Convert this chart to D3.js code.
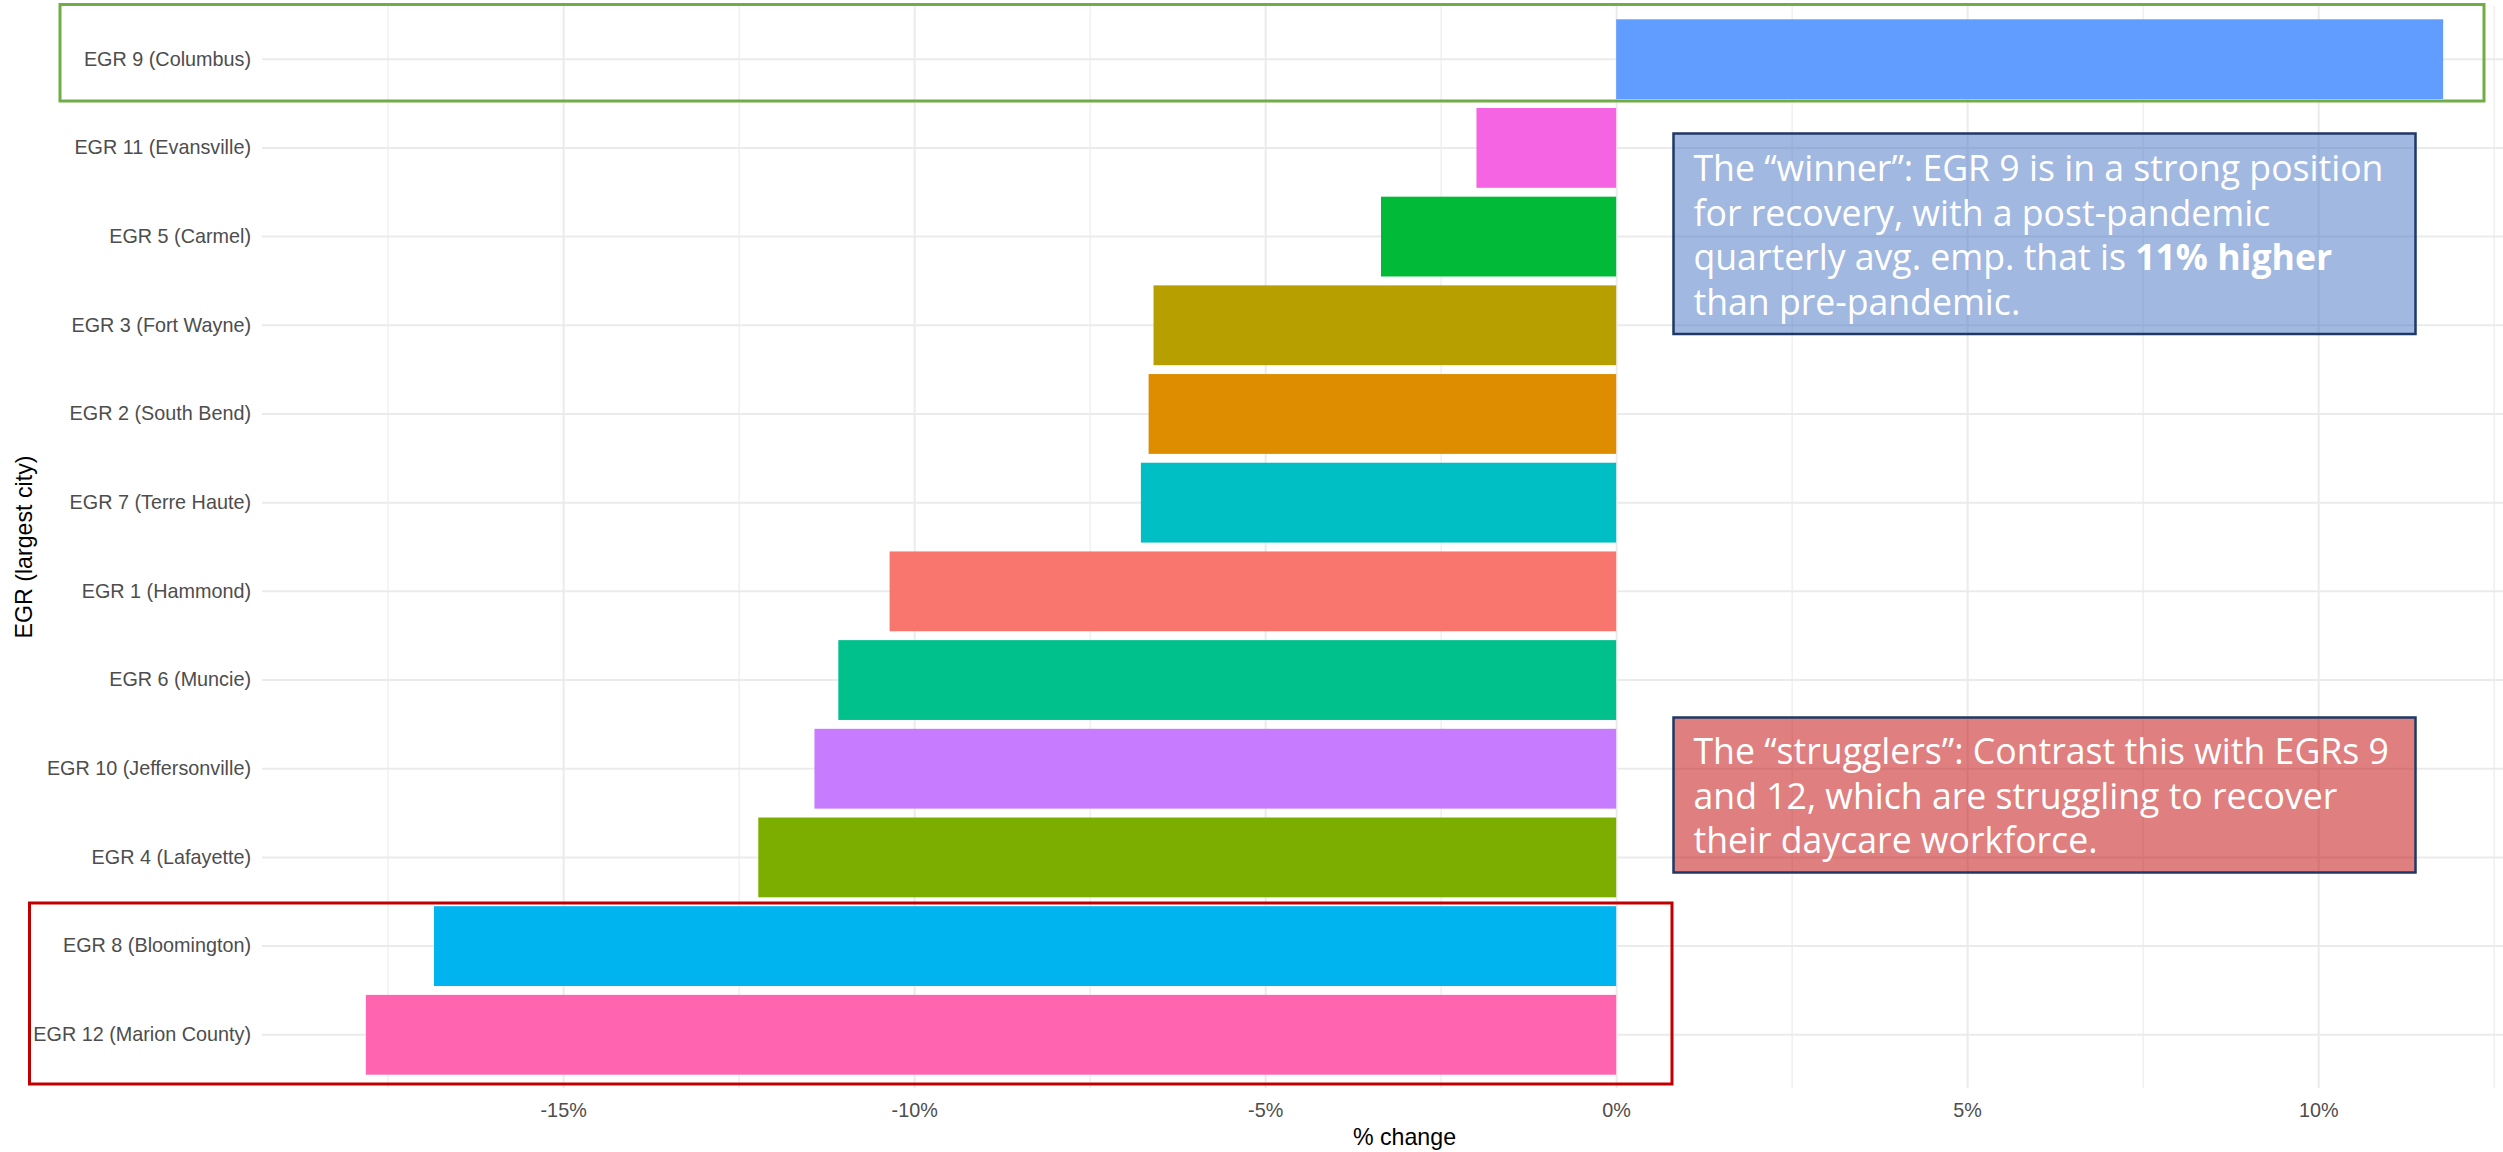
<!DOCTYPE html>
<html>
<head>
<meta charset="utf-8">
<script src="https://cdn.jsdelivr.net/npm/d3@7"></script>
<style>
  body { margin: 0; background: #fff; }
  svg { display: block; }
</style>
</head>
<body>
<svg id="chart"></svg>
<script>
// % change, post- vs pre-pandemic quarterly avg. employment
const egrNames = [
  "EGR 1 (Hammond)", "EGR 2 (South Bend)", "EGR 3 (Fort Wayne)", "EGR 4 (Lafayette)",
  "EGR 5 (Carmel)", "EGR 6 (Muncie)", "EGR 7 (Terre Haute)", "EGR 8 (Bloomington)",
  "EGR 9 (Columbus)", "EGR 10 (Jeffersonville)", "EGR 11 (Evansville)", "EGR 12 (Marion County)"
];
const pctChange = [-10.35, -6.66, -6.59, -12.22, -3.35, -11.08, -6.77, -16.84, 11.78, -11.42, -1.99, -17.81];

const xTicks = [-15, -10, -5, 0, 5, 10];
const xMinorTicks = [-17.5, -12.5, -7.5, -2.5, 2.5, 7.5, 12.5];

// ggplot default hue palette, one per EGR (in EGR order)
const hueColors = ["#F8766D", "#DE8C00", "#B79F00", "#7CAE00", "#00BA38", "#00C08B",
                   "#00BFC4", "#00B4F0", "#619CFF", "#C77CFF", "#F564E3", "#FF64B0"];

const winnerLines = [
  [{ t: "The \u201Cwinner\u201D: EGR 9 is in a strong position" }],
  [{ t: "for recovery, with a post-pandemic" }],
  [{ t: "quarterly avg. emp. that is " }, { t: "11% higher", bold: true }],
  [{ t: "than pre-pandemic." }]
];
const strugglerLines = [
  [{ t: "The \u201Cstrugglers\u201D: Contrast this with EGRs 9" }],
  [{ t: "and 12, which are struggling to recover" }],
  [{ t: "their daycare workforce." }]
];

// --- layout ---
const W = 2503, H = 1152;
const panel = { left: 262, right: 2547, top: 6, bottom: 1088 };

const rows = egrNames.map((name, i) => ({ name, value: pctChange[i] }))
  .sort((a, b) => b.value - a.value);

const ext = d3.extent(pctChange);
const pad = 0.05 * (ext[1] - ext[0]);
const x = d3.scaleLinear().domain([ext[0] - pad, ext[1] + pad]).range([panel.left, panel.right]);
const y = d3.scaleBand().domain(rows.map(d => d.name))
  .range([panel.top, panel.bottom]).paddingInner(0.1).paddingOuter(0.15);
const color = d3.scaleOrdinal(egrNames, hueColors);

const svg = d3.select("#chart").attr("width", W).attr("height", H)
  .style("font-family", "'Liberation Sans', Arial, sans-serif");

// grid
const ph = panel.bottom - panel.top;
const minorGrid = svg.append("g")
  .attr("transform", `translate(0,${panel.bottom})`)
  .call(d3.axisBottom(x).tickValues(xMinorTicks).tickSize(-ph).tickFormat(""));
minorGrid.select(".domain").remove();
minorGrid.selectAll("line").attr("stroke", "#F0F0F0").attr("stroke-width", 1.5);

const majorGrid = svg.append("g")
  .attr("transform", `translate(0,${panel.bottom})`)
  .call(d3.axisBottom(x).tickValues(xTicks).tickSize(-ph).tickFormat(""));
majorGrid.select(".domain").remove();
majorGrid.selectAll("line").attr("stroke", "#EBEBEB").attr("stroke-width", 2);

const yGrid = svg.append("g")
  .attr("transform", `translate(${panel.left},0)`)
  .call(d3.axisLeft(y).tickSize(-(panel.right - panel.left)).tickFormat(""));
yGrid.select(".domain").remove();
yGrid.selectAll("line").attr("stroke", "#EBEBEB").attr("stroke-width", 2);

// bars
svg.append("g").selectAll("rect").data(rows).join("rect")
  .attr("x", d => x(Math.min(0, d.value)))
  .attr("y", d => y(d.name))
  .attr("width", d => Math.abs(x(d.value) - x(0)))
  .attr("height", y.bandwidth())
  .attr("fill", d => color(d.name));

// axes text
const xAxis = svg.append("g")
  .attr("transform", `translate(0,${panel.bottom})`)
  .call(d3.axisBottom(x).tickValues(xTicks).tickSize(0).tickPadding(15).tickFormat(d => d + "%"));
xAxis.select(".domain").remove();
xAxis.selectAll("text").attr("font-size", 19.8).attr("fill", "#4D4D4D")
  .style("font-family", "'Liberation Sans', Arial, sans-serif");

const yAxis = svg.append("g")
  .attr("transform", `translate(${panel.left},0)`)
  .call(d3.axisLeft(y).tickSize(0).tickPadding(11));
yAxis.select(".domain").remove();
yAxis.selectAll("text").attr("font-size", 19.8).attr("fill", "#4D4D4D")
  .style("font-family", "'Liberation Sans', Arial, sans-serif");

svg.append("text")
  .attr("x", (panel.left + panel.right) / 2).attr("y", 1145)
  .attr("text-anchor", "middle").attr("font-size", 23.2).attr("fill", "#000")
  .text("% change");

svg.append("text")
  .attr("transform", `translate(32,${(panel.top + panel.bottom) / 2}) rotate(-90)`)
  .attr("text-anchor", "middle").attr("font-size", 23.2).attr("fill", "#000")
  .text("EGR (largest city)");

// highlight frames
svg.append("rect").attr("x", 60).attr("y", 4.5).attr("width", 2424).attr("height", 96.5)
  .attr("fill", "none").attr("stroke", "#70AD47").attr("stroke-width", 3);
svg.append("rect").attr("x", 29.5).attr("y", 903).attr("width", 1642.5).attr("height", 181)
  .attr("fill", "none").attr("stroke", "#C00000").attr("stroke-width", 3);

// callout boxes
function callout(bx, by, bw, bh, fill, lines, firstBase) {
  svg.append("rect").attr("x", bx).attr("y", by).attr("width", bw).attr("height", bh)
    .attr("fill", fill).attr("fill-opacity", 0.5)
    .attr("stroke", "#203864").attr("stroke-width", 2.5);
  const t = svg.append("text")
    .style("font-family", "'Open Sans', 'Noto Sans', sans-serif")
    .attr("fill", "#fff").attr("font-size", 32);
  lines.forEach((parts, i) => {
    const line = t.append("tspan").attr("x", bx + 20).attr("y", firstBase + i * 44.5);
    parts.forEach(p => {
      line.append("tspan").attr("font-weight", p.bold ? 700 : 400).text(p.t);
    });
  });
  return t;
}
const t1 = callout(1673.5, 133.5, 742, 200.5, "#4472C4", winnerLines, 181);
const t2 = callout(1673.5, 717.5, 742, 155, "#C00000", strugglerLines, 764);

// fit font so the first line spans about the same width as in the picture
const firstW = t1.select("tspan").node().getComputedTextLength();
const fs = 32 * 690 / firstW;
t1.attr("font-size", fs);
t2.attr("font-size", fs);
</script>
</body>
</html>
